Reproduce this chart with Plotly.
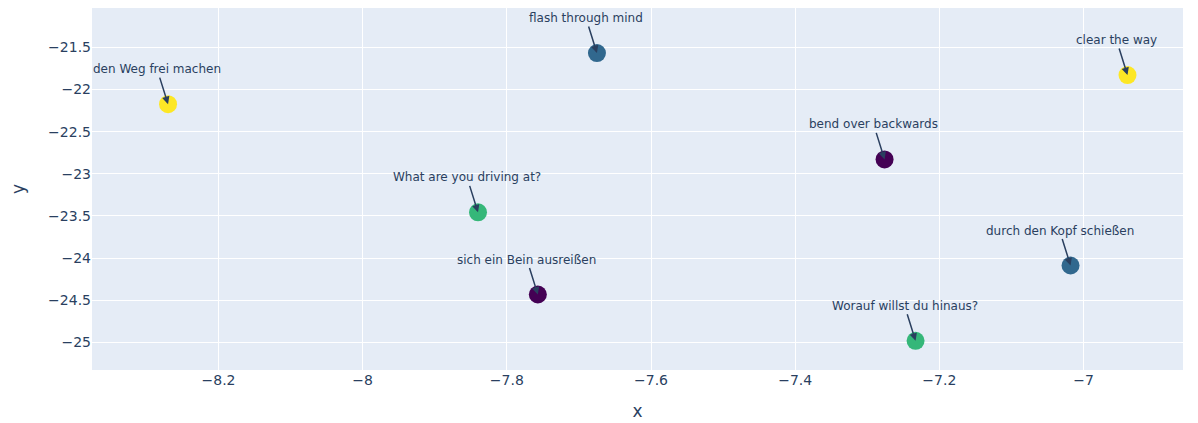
import plotly.graph_objects as go

labels = [
    "den Weg frei machen", "flash through mind", "clear the way",
    "bend over backwards", "What are you driving at?", "durch den Kopf schießen",
    "sich ein Bein ausreißen", "Worauf willst du hinaus?",
]
x_vals = [-8.270, -7.675, -6.939, -7.276, -7.840, -7.018, -7.757, -7.233]
y_vals = [-22.174, -21.568, -21.829, -22.829, -23.457, -24.087, -24.431, -24.980]
groups = [3, 1, 3, 0, 2, 1, 0, 2]

fig = go.Figure(
    go.Scatter(
        x=x_vals, y=y_vals, mode="markers",
        marker=dict(size=18, color=groups, colorscale="Viridis", showscale=False),
        hoverinfo="text", text=labels,
    )
)

for lx, ly, lt in zip(x_vals, y_vals, labels):
    fig.add_annotation(
        x=lx, y=ly, text=lt, showarrow=True, arrowhead=2, arrowsize=1,
        arrowwidth=1.5, arrowcolor="#2a3f5f", ax=-11, ay=-35,
        font=dict(size=12, color="#2a3f5f"),
    )

fig.update_layout(
    width=1190, height=415,
    template="plotly",
    font=dict(family="DejaVu Sans", size=14),
    margin=dict(l=84, r=15, t=0, b=53),
    showlegend=False,
    xaxis=dict(title=dict(text="x", standoff=18), range=[-8.3755, -6.862], dtick=0.2),
    yaxis=dict(title=dict(text="y", standoff=23), range=[-25.326, -21.034], dtick=0.5),
)

fig.write_html("out.html")
